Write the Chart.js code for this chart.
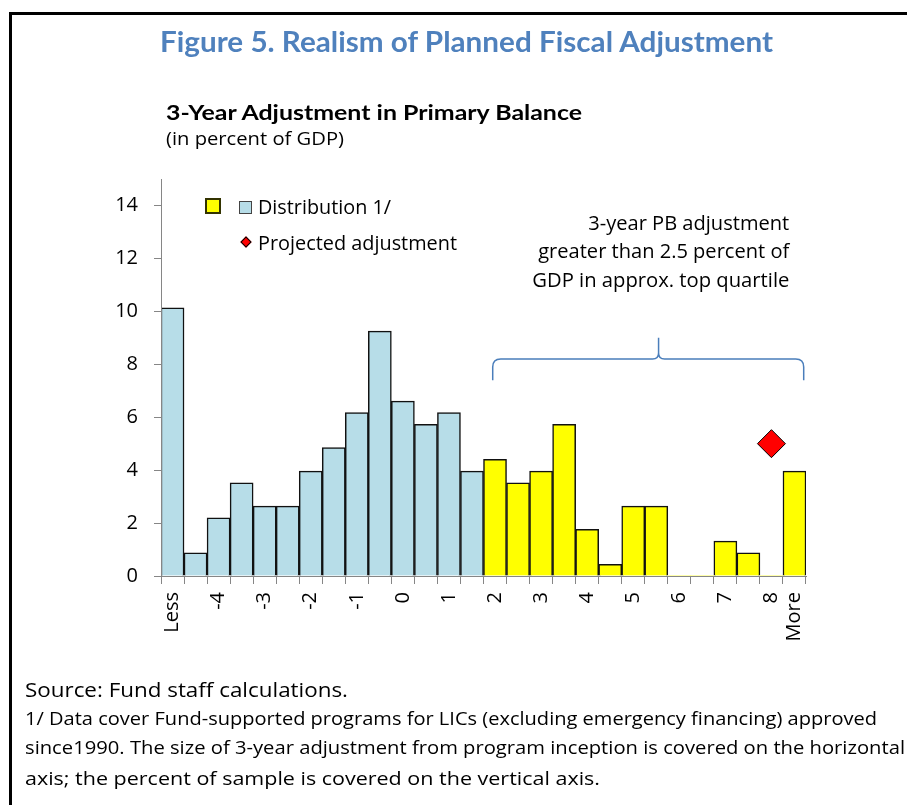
<!DOCTYPE html>
<html>
<head>
<meta charset="utf-8">
<script src="https://cdn.jsdelivr.net/npm/chart.js@4.4.1/dist/chart.umd.min.js"></script>
<style>
html,body{margin:0;padding:0;background:#fff;}
#wrap{position:relative;width:907px;height:805px;overflow:hidden;background:#fff;}
#c{position:absolute;left:0;top:0;}
.frame{position:absolute;left:9px;top:12px;width:1000px;height:1000px;border-left:3px solid #000;border-top:3px solid #000;}
.t{position:absolute;white-space:nowrap;line-height:normal;}
.sw{position:absolute;box-sizing:border-box;}
</style>
</head>
<body>
<div id="wrap"><div class="frame"></div><canvas id="c" width="907" height="805"></canvas></div>
<script>
// ---------- data ----------
const categories = ["Less","-4.5","-4","-3.5","-3","-2.5","-2","-1.5","-1","-0.5","0","0.5","1","1.5","2","2.5","3","3.5","4","4.5","5","5.5","6","6.5","7","7.5","8","More"];
const tickLabels = ["Less","","-4","","-3","","-2","","-1","","0","","1","","2","","3","","4","","5","","6","","7","","8","More"];
const distribution = [10.13,0.88,2.20,3.52,2.64,2.64,3.96,4.85,6.17,9.25,6.61,5.73,6.17,3.96,4.41,3.52,3.96,5.73,1.76,0.44,2.64,2.64,0,0,1.32,0.88,0,3.96];
const highlightFrom = "2";          // bins from here on are the top-quartile bins (yellow)
const projectedCategory = "8";
const projectedValue = 5.0;
const yTicks = [0,2,4,6,8,10,12,14];

const titleText = "Figure 5. Realism of Planned Fiscal Adjustment";
const subtitleText = "3-Year Adjustment in Primary Balance";
const unitText = "(in percent of GDP)";
const legendDist = "Distribution 1/";
const legendProj = "Projected adjustment";
const noteLines = ["3-year PB adjustment","greater than 2.5 percent of","GDP in approx. top quartile"];
const sourceText = "Source: Fund staff calculations.";
const footLines = [
  "1/ Data cover Fund-supported programs for LICs (excluding emergency financing) approved",
  "since1990. The size of 3-year adjustment from program inception is covered on the horizontal",
  "axis; the percent of sample is covered on the vertical axis."
];

// ---------- styles ----------
const BLUE = "#B7DDE8", YELLOW = "#FFFF00", AXIS = "#868686";
const hiIdx = categories.indexOf(highlightFrom);
const barColors = categories.map((c,i) => i >= hiIdx ? YELLOW : BLUE);
const projectedData = categories.map(c => c === projectedCategory ? projectedValue : null);

// brace annotation (in axis units)
const brace = {from: 13.9, to: 27.4, peak: 21.1, bottom: 7.4, mid: 8.2, top: 9.0};

const bracePlugin = {
  id: 'brace',
  afterDatasetsDraw(chart) {
    const xs = chart.scales.x, ys = chart.scales.y, ctx = chart.ctx;
    const x1 = xs.getPixelForValue(brace.from), x2 = xs.getPixelForValue(brace.to), xm = xs.getPixelForValue(brace.peak);
    const yb = ys.getPixelForValue(brace.bottom), yh = ys.getPixelForValue(brace.mid), yt = ys.getPixelForValue(brace.top);
    const r = 8, r2 = 6;
    ctx.save();
    ctx.strokeStyle = '#4A7EBB'; ctx.lineWidth = 1.5;
    ctx.beginPath();
    ctx.moveTo(x1, yb); ctx.lineTo(x1, yh + r); ctx.quadraticCurveTo(x1, yh, x1 + r, yh);
    ctx.lineTo(xm - r2, yh); ctx.quadraticCurveTo(xm, yh, xm, yh - r2); ctx.lineTo(xm, yt);
    ctx.moveTo(xm, yh - r2); ctx.quadraticCurveTo(xm, yh, xm + r2, yh);
    ctx.lineTo(x2 - r, yh); ctx.quadraticCurveTo(x2, yh, x2, yh + r); ctx.lineTo(x2, yb);
    ctx.stroke();
    ctx.restore();
  }
};

Chart.defaults.font.family = "'Open Sans', 'DejaVu Sans', sans-serif";
Chart.defaults.color = "#000";

new Chart(document.getElementById('c'), {
  type: 'bar',
  data: {
    labels: categories,
    datasets: [
      {
        type: 'line', label: legendProj, data: projectedData,
        showLine: false, pointStyle: 'rectRot', pointRadius: 14, pointHoverRadius: 14,
        backgroundColor: '#FF0000', borderColor: '#000', borderWidth: 1
      },
      {
        type: 'bar', label: legendDist, data: distribution,
        backgroundColor: barColors, borderColor: '#111',
        borderWidth: ctx => (ctx.raw === 0 ? 0 : 1.5),
        borderSkipped: 'start',
        categoryPercentage: 1, barPercentage: 1
      }
    ]
  },
  options: {
    responsive: false, animation: false, devicePixelRatio: 1,
    layout: {padding: {left: 60, top: 179, right: 101, bottom: 149}},
    plugins: {legend: {display: false}, tooltip: {enabled: false}},
    scales: {
      x: {
        type: 'category', offset: true,
        grid: {display: true, drawOnChartArea: false, drawTicks: true, tickLength: 8, color: AXIS, offset: true},
        border: {display: true, color: AXIS, width: 1, z: 1},
        ticks: {autoSkip: false, maxRotation: 90, minRotation: 90, padding: 8,
                font: {size: 20}, color: '#000',
                callback: (v, i) => tickLabels[i]},
        afterFit: s => { s.height = 80; }
      },
      y: {
        min: 0, max: 15,
        grid: {display: true, drawOnChartArea: false, drawTicks: true, tickLength: 7, color: AXIS},
        border: {display: true, color: AXIS, width: 1, z: 1},
        ticks: {padding: 16, font: {size: 20}, color: '#000'},
        afterBuildTicks: s => { s.ticks = yTicks.map(v => ({value: v})); },
        afterFit: s => { s.width = 101; }
      }
    }
  },
  plugins: [bracePlugin]
});

// ---------- HTML text ----------
const wrap = document.getElementById('wrap');
function place(txt, o) {
  const d = document.createElement('div'); d.className = 't';
  d.style.font = o.font; d.style.color = o.color || '#000';
  const s = document.createElement('span'); s.textContent = txt; d.appendChild(s);
  const m = document.createElement('span'); m.style.cssText = 'display:inline-block;width:0;height:0;vertical-align:baseline;'; d.appendChild(m);
  wrap.appendChild(d);
  const w = s.getBoundingClientRect().width;
  const sc = o.width ? o.width / w : 1;
  d.style.top = (o.baseline - m.offsetTop) + 'px';
  if (o.align === 'right') { d.style.left = (o.right - w) + 'px'; d.style.transformOrigin = 'right center'; }
  else { d.style.left = o.x + 'px'; d.style.transformOrigin = 'left center'; }
  d.style.transform = 'scaleX(' + sc + ')';
}
const F = "'Lato','Open Sans',sans-serif";
const G = "'Open Sans','Lato',sans-serif";
place(titleText, {font: "bold 28px " + F, color: '#4F81BD', x: 160, baseline: 52, width: 613});
place(subtitleText, {font: "bold 21px " + F, x: 166, baseline: 120, width: 416});
place(unitText, {font: "19px " + G, x: 166, baseline: 145, width: 178});
place(legendDist, {font: "20px " + G, x: 258, baseline: 214, width: 133});
place(legendProj, {font: "20px " + G, x: 258, baseline: 250, width: 199});
place(noteLines[0], {font: "20px " + G, align: 'right', right: 789, baseline: 230, width: 201});
place(noteLines[1], {font: "20px " + G, align: 'right', right: 789, baseline: 258, width: 251});
place(noteLines[2], {font: "20px " + G, align: 'right', right: 789, baseline: 287, width: 257});
place(sourceText, {font: "19.5px " + G, x: 25, baseline: 697, width: 323});
place(footLines[0], {font: "17.5px " + G, x: 25, baseline: 725, width: 852});
place(footLines[1], {font: "17.5px " + G, x: 25, baseline: 754, width: 880});
place(footLines[2], {font: "17.5px " + G, x: 25, baseline: 785, width: 575});

// legend swatches
function sw(css) { const d = document.createElement('div'); d.className = 'sw'; d.style.cssText += css; wrap.appendChild(d); }
sw('left:205px;top:198px;width:16px;height:16px;background:' + YELLOW + ';border:2px solid #333300;');
sw('left:239px;top:201px;width:13px;height:13px;background:' + BLUE + ';border:1px solid #444;');
sw('left:242px;top:238px;width:8px;height:8px;background:#FF0000;border:1px solid #000;transform:rotate(45deg);');
</script>
</body>
</html>
